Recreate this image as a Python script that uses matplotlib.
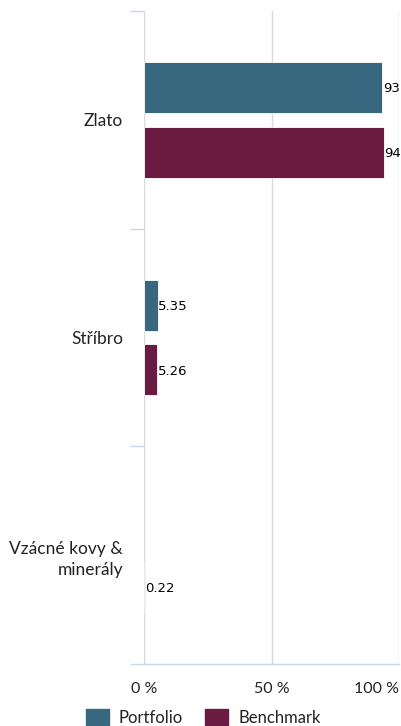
import matplotlib
matplotlib.use("Agg")
import matplotlib.pyplot as plt
from matplotlib.patches import Rectangle
import numpy as np

categories = ["Zlato", "Stříbro", "Vzácné kovy &\nminerály"]
portfolio = [93.42, 5.35, None]
benchmark = [94.06, 5.26, 0.22]
x_ticks = [0, 50, 100]
x_tick_labels = ["0 %", "50 %", "100 %"]
series_names = ["Portfolio", "Benchmark"]

c_port = "#386880"
c_bench = "#6b1b42"
axis_col = "#ccd6eb"
grid_col = "#d9d9d9"
text_col = "#222222"

W, H = 402, 726
fig = plt.figure(figsize=(W / 100, H / 100), dpi=100)
ax = fig.add_axes([144 / W, (H - 664) / H, (399 - 144) / W, (664 - 11) / H])

y = np.arange(len(categories))
off = 0.149
bh = 0.234

for vals, sgn, col in [(portfolio, -1, c_port), (benchmark, 1, c_bench)]:
    for i, v in enumerate(vals):
        if v is None:
            continue
        ax.barh(y[i] + sgn * off, v, height=bh, color=col, edgecolor="white",
                linewidth=0.6, zorder=3)
        ax.annotate(f"{v:.2f}", (v, y[i] + sgn * off),
                    xytext=(0.5, -1), textcoords="offset points", va="center", ha="left",
                    fontsize=9.5, color="black", family="DejaVu Sans",
                    annotation_clip=False, zorder=4)

ax.set_xlim(0, 100)
ax.set_ylim(len(categories) - 0.5, -0.5)

ax.set_xticks(x_ticks)
ax.set_xticklabels(x_tick_labels, family="Lato", fontsize=11.5, color=text_col)
ax.tick_params(axis="x", length=0, pad=13)
xl = ax.get_xticklabels()
xl[-1].set_horizontalalignment("right")
ax.set_yticks(y)
ax.set_yticklabels(categories, family="Lato", fontsize=12.5, color=text_col,
                   ha="right", ma="right", linespacing=1.42)
ax.tick_params(axis="y", which="major", length=0, pad=15)
ax.set_yticks(np.arange(len(categories) + 1) - 0.5, minor=True)
ax.tick_params(axis="y", which="minor", length=10, width=1, color=axis_col,
               direction="out")

for sp in ["top", "right", "left"]:
    ax.spines[sp].set_visible(False)
ax.spines["bottom"].set_color(axis_col)
ax.spines["bottom"].set_linewidth(1)

for xv in x_ticks:
    ax.axvline(xv, color=grid_col, linewidth=1, zorder=1)

handles = [Rectangle((0, 0), 1, 1, color=c_port), Rectangle((0, 0), 1, 1, color=c_bench)]
fig.legend(handles, series_names, loc="lower center", bbox_to_anchor=(0.505, -0.02),
           ncol=2, frameon=False, prop={"family": "Lato", "size": 12},
           handlelength=1.4, handleheight=1.1, handletextpad=0.6, columnspacing=1.3,
           labelcolor=text_col)

fig.savefig("out.png", dpi=100)
